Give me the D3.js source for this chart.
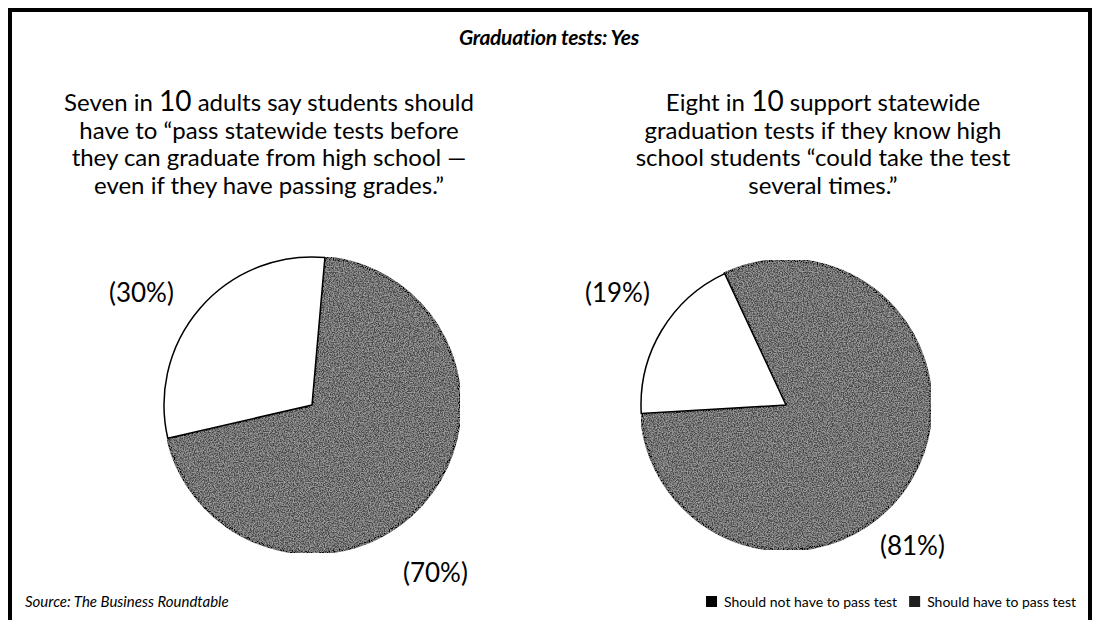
<!DOCTYPE html>
<html>
<head>
<meta charset="utf-8">
<script src="https://cdn.jsdelivr.net/npm/d3@7"></script>
<style>
  body { margin: 0; background: #fff; }
  svg { display: block; }
</style>
</head>
<body>
<div id="chart"></div>
<script>
const width = 1095;
const height = 620;

const titleText = "Graduation tests: Yes";
const categories = ["Should have to pass test", "Should not have to pass test"];
const leftValues = [70, 30];
const rightValues = [81, 19];
const leftLines = [
  ["Seven in ", "10", " adults say students should"],
  ["have to \u201cpass statewide tests before"],
  ["they can graduate from high school \u2014"],
  ["even if they have passing grades.\u201d"]
];
const rightLines = [
  ["Eight in ", "10", " support statewide"],
  ["graduation tests if they know high"],
  ["school students \u201ccould take the test"],
  ["several times.\u201d"]
];
const sourceText = "Source: The Business Roundtable";

const fontFamily = "Lato, 'Open Sans', sans-serif";

var svg = d3.select("#chart")
  .append("svg")
  .attr("width", width)
  .attr("height", height);

// texture for the dark slices
var defs = svg.append("defs");
var tex = defs.append("filter")
  .attr("id", "grain")
  .attr("x", "0").attr("y", "0").attr("width", "100%").attr("height", "100%");
tex.append("feTurbulence")
  .attr("type", "fractalNoise")
  .attr("baseFrequency", "0.8")
  .attr("numOctaves", 2)
  .attr("seed", 3)
  .attr("result", "noise");
tex.append("feColorMatrix")
  .attr("in", "noise")
  .attr("type", "matrix")
  .attr("values", "0 0 0 0 0.62  0 0 0 0 0.62  0 0 0 0 0.62  0 0 0 1.3 -0.45")
  .attr("result", "speck");
tex.append("feComposite")
  .attr("in", "speck")
  .attr("in2", "SourceGraphic")
  .attr("operator", "in")
  .attr("result", "speckIn");
tex.append("feMerge").call(m => {
  m.append("feMergeNode").attr("in", "SourceGraphic");
  m.append("feMergeNode").attr("in", "speckIn");
});

// frame
svg.append("rect")
  .attr("x", 10)
  .attr("y", 10)
  .attr("width", 1080)
  .attr("height", 640)
  .attr("fill", "none")
  .attr("stroke", "#000")
  .attr("stroke-width", 4);

// title
svg.append("text")
  .attr("x", 549)
  .attr("y", 45)
  .attr("text-anchor", "middle")
  .style("font-family", fontFamily)
  .style("font-size", "21px")
  .style("font-weight", "bold")
  .style("font-style", "italic")
  .style("letter-spacing", "-0.3px")
  .text(titleText);

function subtitle(lines, cx) {
  var t = svg.append("text")
    .attr("text-anchor", "middle")
    .style("font-family", fontFamily)
    .style("font-size", "24px")
    .attr("fill", "#000");
  lines.forEach(function (parts, i) {
    var line = t.append("tspan")
      .attr("x", cx)
      .attr("y", 111 + i * 27.5);
    parts.forEach(function (p) {
      line.append("tspan")
        .style("font-size", p === "10" ? "28px" : null)
        .text(p);
    });
  });
}
subtitle(leftLines, 269);
subtitle(rightLines, 823);

var colorScale = d3.scaleOrdinal()
  .domain(categories)
  .range(["#4a4a4a", "#ffffff"]);

function drawPie(values, cx, cy, r, startDeg, labelPos) {
  var data = values.map(function (v, i) { return { cat: categories[i], value: v }; });
  var pie = d3.pie()
    .sort(null)
    .value(d => d.value)
    .startAngle(startDeg * Math.PI / 180)
    .endAngle((startDeg + 360) * Math.PI / 180);
  var arc = d3.arc().innerRadius(0).outerRadius(r);
  var g = svg.append("g").attr("transform", `translate(${cx},${cy})`);
  g.selectAll("path")
    .data(pie(data))
    .join("path")
    .attr("d", arc)
    .attr("fill", d => colorScale(d.data.cat))
    .attr("filter", d => d.index === 0 ? "url(#grain)" : null)
    .attr("stroke", "#000")
    .attr("stroke-width", d => d.index === 0 ? 3 : 1.5)
    .attr("stroke-linejoin", "round");

  data.forEach(function (d, i) {
    svg.append("text")
      .attr("x", labelPos[i][0])
      .attr("y", labelPos[i][1])
      .style("font-family", fontFamily)
      .style("font-size", "26px")
      .text("(" + d.value + "%)");
  });
}

drawPie(leftValues, 312, 405, 148, 5, [[403, 582], [109, 302]]);
drawPie(rightValues, 786, 405, 145, -25, [[880, 555], [585, 302]]);

// source
svg.append("text")
  .attr("x", 25)
  .attr("y", 607)
  .style("font-family", fontFamily)
  .style("font-size", "15px")
  .style("font-style", "italic")
  .text(sourceText);

// legend, laid out from the right edge
var legendItems = [
  { label: categories[1], fill: "#000" },
  { label: categories[0], fill: "#1e1e1e" }
];
var legend = svg.append("g");
var cursor = 1076;
legendItems.slice().reverse().forEach(function (d) {
  var t = legend.append("text")
    .attr("y", 607)
    .attr("text-anchor", "end")
    .attr("x", cursor)
    .style("font-family", fontFamily)
    .style("font-size", "14px")
    .text(d.label);
  var w = t.node().getComputedTextLength();
  legend.append("rect")
    .attr("x", cursor - w - 18)
    .attr("y", 596)
    .attr("width", 11)
    .attr("height", 11)
    .attr("fill", d.fill);
  cursor = cursor - w - 30;
});
</script>
</body>
</html>
